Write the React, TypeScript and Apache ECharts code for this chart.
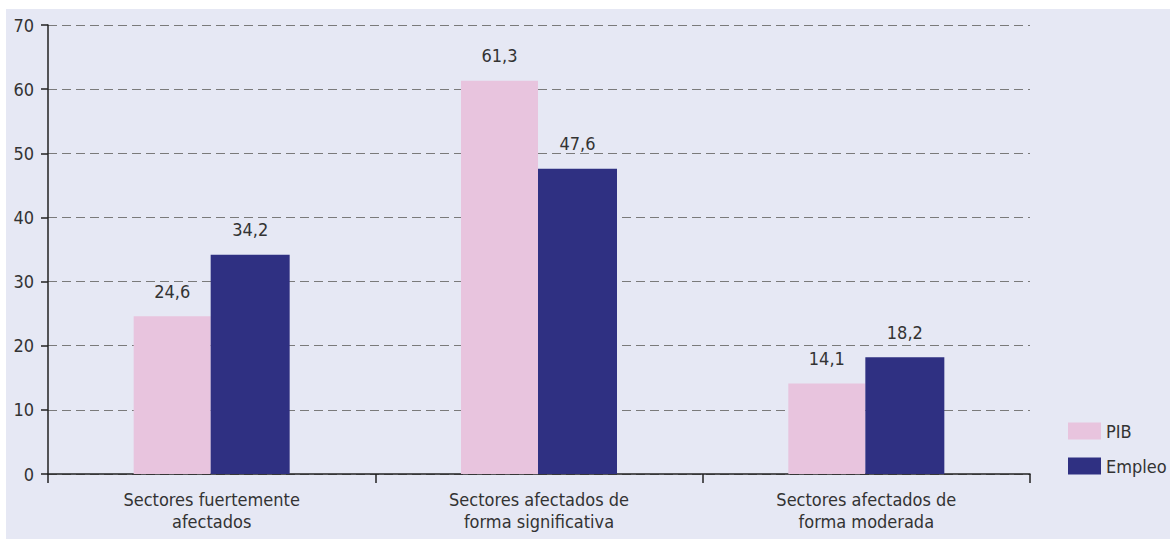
import React, { useEffect, useRef } from "react";
import * as echarts from "echarts";

const categories = [
  "Sectores fuertemente\nafectados",
  "Sectores afectados de\nforma significativa",
  "Sectores afectados de\nforma moderada",
];
const pibValues = [24.6, 61.3, 14.1];
const empleoValues = [34.2, 47.6, 18.2];
const seriesNames = ["PIB", "Empleo"];

const FONT = "'DejaVu Sans Condensed', 'Roboto', sans-serif";

export default function App() {
  const ref = useRef<HTMLDivElement>(null);
  useEffect(() => {
    const chart = echarts.init(ref.current!, null, { renderer: "svg" });
    const fmt = (p: any) => String(p.value).replace(".", ",");
    const labelStyle = {
      show: true,
      position: "top",
      distance: 16,
      formatter: fmt,
      fontFamily: FONT,
      fontSize: 18,
      color: "#333",
    };
    chart.setOption({
      animation: false,
      backgroundColor: "#ffffff",
      textStyle: { fontFamily: FONT },
      graphic: [
        {
          type: "rect",
          z: -10,
          shape: { x: 6, y: 9, width: 1164, height: 530 },
          style: { fill: "#e6e8f4" },
          silent: true,
        },
      ],
      grid: { left: 48, right: 140, top: 25, bottom: 67, containLabel: false },
      legend: {
        orient: "vertical",
        left: 1063,
        top: 417,
        itemWidth: 33,
        itemHeight: 17,
        itemGap: 17,
        icon: "rect",
        textStyle: { fontFamily: FONT, fontSize: 18, color: "#333" },
        data: seriesNames,
      },
      xAxis: {
        type: "category",
        data: categories,
        axisLine: { lineStyle: { color: "#222", width: 1.5 } },
        axisTick: { show: true, length: 9, lineStyle: { color: "#222", width: 1.5 } },
        axisLabel: {
          fontFamily: FONT,
          fontSize: 18,
          color: "#333",
          margin: 14,
          lineHeight: 22,
        },
      },
      yAxis: {
        type: "value",
        min: 0,
        max: 70,
        interval: 10,
        axisLine: { show: true, lineStyle: { color: "#222", width: 1.5 } },
        axisTick: { show: true, length: 7, lineStyle: { color: "#222", width: 1.5 } },
        axisLabel: { fontFamily: FONT, fontSize: 18, color: "#333", margin: 14 },
        splitLine: {
          show: true,
          lineStyle: { color: "#7a7a7a", type: [9, 5], width: 1.2 },
        },
      },
      series: [
        {
          name: seriesNames[0],
          type: "bar",
          data: pibValues,
          barWidth: 77,
          barGap: "0%",
          itemStyle: { color: "#e8c4de" },
          label: labelStyle,
        },
        {
          name: seriesNames[1],
          type: "bar",
          data: empleoValues,
          barWidth: 79,
          barGap: "0%",
          itemStyle: { color: "#2f3082" },
          label: labelStyle,
        },
      ],
    });
    return () => chart.dispose();
  }, []);
  return (
    <div
      ref={ref}
      style={{ position: "fixed", left: 0, top: 0, width: 1170, height: 541 }}
    />
  );
}
